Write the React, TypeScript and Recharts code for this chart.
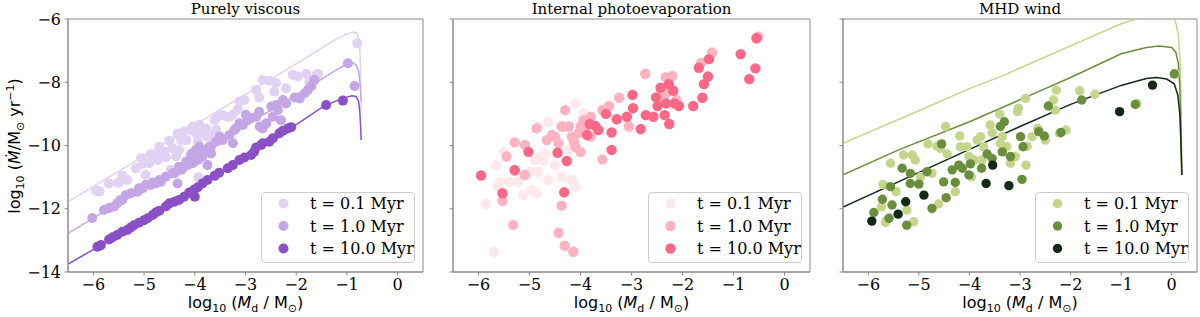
import { ComposedChart, Scatter, Line, XAxis, YAxis, ReferenceArea, Legend } from 'recharts';

type Pt = [number, number];

const X_TICKS = [-6, -5, -4, -3, -2, -1, 0];
const Y_TICKS = [-14, -12, -10, -8, -6];
const AGES = ['t = 0.1 Myr', 't = 1.0 Myr', 't = 10.0 Myr'];

// ---- Purely viscous ----
const viscTrack01: Pt[] = [[-6.5, -11.78], [-5, -10.33], [-4, -9.35], [-3, -8.38], [-2, -7.42], [-1.5, -6.92], [-1.2, -6.63], [-1.0, -6.47], [-0.88, -6.41], [-0.8, -6.45], [-0.76, -6.65], [-0.74, -7.1], [-0.73, -7.8], [-0.72, -8.9]];
const viscTrack1: Pt[] = [[-6.5, -12.78], [-5, -11.33], [-4, -10.35], [-3, -9.37], [-2, -8.4], [-1.5, -7.9], [-1.2, -7.6], [-1.0, -7.43], [-0.9, -7.38], [-0.82, -7.45], [-0.77, -7.65], [-0.745, -8.0], [-0.72, -8.6]];
const viscTrack10: Pt[] = [[-6.5, -13.75], [-5, -12.37], [-4, -11.4], [-3, -10.38], [-2.1, -9.45], [-1.5, -8.8], [-1.2, -8.58], [-1.0, -8.47], [-0.9, -8.43], [-0.82, -8.45], [-0.77, -8.6], [-0.745, -8.95], [-0.73, -9.4], [-0.72, -9.83]];

const viscPts01: Pt[] = [[-5.95, -11.42], [-5.88, -11.45], [-5.69, -11.2], [-5.5, -11.18], [-5.43, -10.95], [-5.33, -11.09], [-5.16, -10.72], [-5.06, -10.4], [-5.03, -10.58], [-4.97, -10.93], [-4.9, -10.56], [-4.87, -10.28], [-4.77, -10.32], [-4.73, -10.46], [-4.7, -10.05], [-4.6, -10.2], [-4.57, -10.37], [-4.5, -9.85], [-4.47, -10.77], [-4.44, -10.09], [-4.37, -10.35], [-4.34, -9.62], [-4.31, -10.14], [-4.27, -9.83], [-4.21, -9.56], [-4.17, -9.83], [-4.08, -9.51], [-4.08, -10.25], [-4.04, -9.4], [-3.98, -9.61], [-3.94, -9.88], [-3.93, -11.0], [-3.91, -9.35], [-3.85, -9.61], [-3.78, -9.46], [-3.75, -9.72], [-3.71, -9.7], [-3.65, -9.88], [-3.61, -9.2], [-3.58, -9.51], [-3.55, -9.09], [-3.45, -9.04], [-3.35, -9.09], [-3.32, -9.09], [-3.25, -9.03], [-3.15, -8.85], [-3.12, -8.61], [-3.02, -8.56], [-2.79, -8.24], [-2.73, -8.48], [-2.66, -7.93], [-2.53, -7.95], [-2.43, -8.3], [-2.4, -8.03], [-2.2, -8.19], [-2.07, -7.77], [-1.97, -7.82], [-1.8, -7.74], [-1.74, -7.98], [-1.6, -7.77], [-1.57, -7.74], [-0.8, -6.77]];
const viscPts1: Pt[] = [[-6.02, -12.29], [-5.79, -12.04], [-5.69, -11.98], [-5.59, -11.93], [-5.53, -11.83], [-5.46, -11.72], [-5.43, -11.72], [-5.36, -11.57], [-5.26, -11.51], [-5.13, -11.46], [-5.1, -11.35], [-5.03, -11.36], [-4.97, -11.25], [-4.87, -11.25], [-4.83, -11.17], [-4.77, -11.2], [-4.7, -11.09], [-4.67, -11.15], [-4.57, -10.99], [-4.44, -10.88], [-4.4, -10.88], [-4.34, -11.2], [-4.31, -10.67], [-4.27, -10.77], [-4.24, -10.72], [-4.17, -10.51], [-4.14, -10.62], [-4.08, -10.35], [-4.04, -10.56], [-4.04, -10.25], [-3.98, -10.14], [-3.94, -10.46], [-3.91, -10.04], [-3.85, -10.35], [-3.85, -10.14], [-3.75, -10.62], [-3.71, -10.04], [-3.68, -10.25], [-3.68, -10.04], [-3.58, -9.88], [-3.51, -9.72], [-3.45, -9.83], [-3.32, -9.67], [-3.25, -9.93], [-3.22, -9.51], [-3.19, -9.46], [-3.12, -9.3], [-3.05, -9.35], [-2.99, -9.03], [-2.96, -9.2], [-2.89, -9.14], [-2.79, -9.09], [-2.73, -8.93], [-2.72, -9.4], [-2.66, -9.46], [-2.59, -9.3], [-2.49, -8.77], [-2.46, -9.09], [-2.4, -8.72], [-2.36, -8.88], [-2.3, -9.2], [-2.26, -8.56], [-2.2, -8.67], [-2.03, -8.48], [-1.93, -8.51], [-1.83, -8.35], [-1.77, -8.24], [-1.7, -8.12], [-1.64, -7.93], [-0.98, -7.4], [-0.85, -8.12]];
const viscPts10: Pt[] = [[-5.92, -13.2], [-5.85, -13.15], [-5.69, -12.97], [-5.62, -12.9], [-5.53, -12.83], [-5.43, -12.73], [-5.33, -12.67], [-5.26, -12.59], [-5.2, -12.52], [-5.1, -12.44], [-5.0, -12.36], [-4.93, -12.3], [-4.83, -12.2], [-4.77, -12.12], [-4.7, -12.06], [-4.57, -11.93], [-4.5, -11.83], [-4.4, -11.78], [-4.31, -11.72], [-4.21, -11.62], [-4.11, -11.49], [-4.01, -11.39], [-4.0, -11.62], [-3.94, -11.32], [-3.85, -11.2], [-3.75, -11.09], [-3.61, -10.96], [-3.52, -10.86], [-3.35, -10.72], [-3.25, -10.62], [-3.12, -10.46], [-3.02, -10.38], [-2.89, -10.3], [-2.83, -10.2], [-2.79, -10.06], [-2.69, -9.98], [-2.66, -9.93], [-2.53, -9.88], [-2.46, -9.77], [-2.33, -9.61], [-2.26, -9.53], [-2.17, -9.46], [-2.1, -9.42], [-1.41, -8.72], [-1.08, -8.58]];

// ---- Internal photoevaporation ----
const pePts01: Pt[] = [[-5.86, -11.85], [-5.7, -13.36], [-5.65, -10.62], [-5.62, -11.3], [-5.58, -11.15], [-5.5, -10.2], [-5.39, -11.15], [-5.22, -11.15], [-5.12, -11.57], [-4.99, -10.83], [-4.96, -11.41], [-4.89, -10.46], [-4.86, -11.51], [-4.83, -10.83], [-4.83, -9.4], [-4.79, -10.35], [-4.73, -10.46], [-4.69, -10.27], [-4.63, -11.09], [-4.63, -9.25], [-4.5, -10.62], [-4.37, -10.99], [-4.23, -10.14], [-4.17, -11.09], [-4.1, -11.3], [-4.1, -8.67], [-3.94, -8.98], [-2.72, -7.7], [-0.5, -6.54]];
const pePts1: Pt[] = [[-5.53, -11.75], [-5.45, -10.35], [-5.32, -12.51], [-5.29, -10.8], [-5.29, -9.9], [-5.09, -10.93], [-5.09, -9.98], [-4.86, -9.46], [-4.66, -9.83], [-4.56, -9.67], [-4.5, -9.72], [-4.43, -9.93], [-4.43, -12.76], [-4.37, -9.4], [-4.37, -11.9], [-4.33, -9.4], [-4.31, -13.17], [-4.3, -8.88], [-4.23, -9.4], [-4.17, -9.72], [-4.14, -13.36], [-4.13, -9.88], [-4.1, -10.04], [-4.04, -9.61], [-4.0, -9.4], [-4.0, -10.2], [-3.94, -9.19], [-3.9, -9.56], [-3.8, -9.09], [-3.8, -9.72], [-3.57, -8.88], [-3.57, -10.44], [-3.44, -8.75], [-3.24, -8.49], [-3.05, -9.4], [-2.73, -7.74], [-2.42, -8.27], [-2.4, -8.46], [-2.33, -7.84], [-2.32, -8.35], [-2.2, -7.8], [-2.12, -8.56], [-1.63, -7.38], [-1.42, -7.06], [-0.52, -6.56]];
const pePts10: Pt[] = [[-5.95, -10.95], [-5.53, -11.51], [-5.29, -10.77], [-5.02, -10.2], [-4.45, -10.23], [-4.32, -11.48], [-4.27, -10.49], [-3.87, -9.67], [-3.82, -9.32], [-3.71, -9.38], [-3.65, -9.51], [-3.5, -9.0], [-3.39, -9.59], [-3.39, -10.14], [-3.29, -9.17], [-3.09, -9.09], [-2.98, -8.4], [-2.97, -8.82], [-2.82, -9.48], [-2.72, -9.04], [-2.57, -9.09], [-2.52, -8.48], [-2.49, -8.75], [-2.43, -8.17], [-2.35, -9.04], [-2.32, -8.67], [-2.27, -8.06], [-2.26, -9.32], [-2.18, -8.27], [-2.16, -8.67], [-2.07, -8.75], [-1.79, -8.75], [-1.68, -7.54], [-1.61, -8.49], [-1.58, -8.06], [-1.5, -7.82], [-1.48, -7.27], [-0.86, -7.11], [-0.69, -7.9], [-0.57, -7.56], [-0.55, -6.61]];

// ---- MHD wind ----
const mhdTrack01: Pt[] = [[-6.5, -9.93], [-5, -8.9], [-4, -8.2], [-3.35, -7.8], [-2, -6.85], [-1, -6.15], [-0.5, -5.9], [-0.2, -5.82], [0, -5.9], [0.08, -6.1], [0.13, -6.5], [0.16, -7.2], [0.18, -8.3], [0.19, -9.5], [0.2, -10.93]];
const mhdTrack1: Pt[] = [[-6.5, -10.93], [-5.4, -10.14], [-4, -9.25], [-3.35, -8.8], [-2, -7.85], [-1, -7.1], [-0.5, -6.9], [-0.25, -6.85], [0, -6.9], [0.08, -7.05], [0.13, -7.4], [0.16, -8.1], [0.18, -9.3], [0.2, -10.93]];
const mhdTrack10: Pt[] = [[-6.5, -11.95], [-4.02, -10.14], [-3, -9.4], [-2, -8.7], [-1, -8.1], [-0.5, -7.88], [-0.3, -7.85], [-0.1, -7.9], [0.05, -8.05], [0.12, -8.4], [0.16, -9.0], [0.18, -9.8], [0.2, -10.93]];

const mhdPts01: Pt[] = [[-5.74, -11.94], [-5.71, -11.23], [-5.66, -12.43], [-5.63, -12.36], [-5.56, -10.56], [-5.45, -11.46], [-5.3, -10.3], [-5.24, -12.04], [-5.13, -10.3], [-5.1, -12.41], [-5.07, -10.46], [-4.97, -10.99], [-4.82, -9.95], [-4.74, -10.88], [-4.64, -10.02], [-4.61, -11.85], [-4.57, -10.09], [-4.47, -9.4], [-4.44, -10.27], [-4.28, -11.46], [-4.19, -9.7], [-4.18, -10.04], [-4.05, -10.04], [-4.01, -10.35], [-3.96, -10.99], [-3.9, -10.46], [-3.85, -9.83], [-3.78, -9.72], [-3.75, -10.46], [-3.72, -10.04], [-3.59, -9.35], [-3.55, -9.6], [-3.4, -9.01], [-3.39, -9.93], [-3.35, -9.72], [-3.26, -10.04], [-3.19, -10.56], [-3.09, -10.35], [-3.05, -8.93], [-3.03, -8.82], [-2.89, -8.51], [-2.86, -10.02], [-2.88, -10.62], [-2.76, -9.72], [-2.65, -9.46], [-2.5, -9.83], [-2.34, -8.56], [-2.28, -8.25], [-2.3, -8.88], [-2.22, -9.61], [-2.09, -9.51], [-1.82, -8.27], [-1.52, -8.38], [-0.69, -8.67], [0.07, -7.72]];
const mhdPts1: Pt[] = [[-5.89, -12.12], [-5.72, -11.7], [-5.59, -12.3], [-5.56, -11.3], [-5.53, -11.88], [-5.33, -10.72], [-5.24, -12.52], [-5.17, -10.88], [-5.17, -11.2], [-5.0, -11.22], [-4.84, -10.83], [-4.74, -11.99], [-4.55, -9.95], [-4.51, -11.15], [-4.46, -11.65], [-4.34, -10.77], [-4.28, -11.17], [-4.21, -10.62], [-4.14, -10.72], [-4.01, -10.93], [-3.98, -10.58], [-3.76, -10.72], [-3.65, -10.27], [-3.55, -10.41], [-3.39, -9.4], [-3.35, -10.2], [-3.31, -9.25], [-3.19, -10.35], [-2.99, -9.72], [-2.96, -11.07], [-2.94, -10.04], [-2.63, -9.56], [-2.52, -9.7], [-2.44, -8.75], [-2.19, -9.59], [-1.78, -8.56], [-0.72, -8.7], [0.05, -7.74]];
const mhdPts10: Pt[] = [[-5.93, -12.39], [-5.41, -12.17], [-5.26, -11.78], [-4.9, -11.57], [-3.67, -11.2], [-3.54, -10.62], [-3.22, -11.27], [-1.03, -8.93], [-0.38, -8.09]];

const rows = (pts: Pt[]) => pts.map(([x, y]) => ({ x, y }));
const fmt = (v: number) => (v < 0 ? `\u2212${Math.abs(v)}` : `${v}`);

const SPINE = '#8a8a8a';
const SERIF = 'DejaVu Serif';
const SANS = 'DejaVu Sans';

const panels = [
  {
    title: 'Purely viscous',
    colors: ['#e1d1f3', '#c4a6e6', '#8b4fc6'],
    points: [viscPts01, viscPts1, viscPts10],
    tracks: [viscTrack01, viscTrack1, viscTrack10],
    left: 0, width: 426, yw: 68, r: 5, yLabels: true,
  },
  {
    title: 'Internal photoevaporation',
    colors: ['#fde8ec', '#ffb3c1', '#fa6886'],
    points: [pePts01, pePts1, pePts10],
    tracks: [] as Pt[][],
    left: 440, width: 373, yw: 13, r: 5.2, yLabels: false,
  },
  {
    title: 'MHD wind',
    colors: ['#c5d68c', '#6a8f3c', '#132a17'],
    points: [mhdPts01, mhdPts1, mhdPts10],
    tracks: [mhdTrack01, mhdTrack1, mhdTrack10],
    left: 830, width: 370, yw: 13, r: 4.7, yLabels: false,
  },
];

const XTick = (p: any) => (
  <text x={p.x} y={p.y} dy="0.71em" textAnchor="middle" fontFamily={SERIF} fontSize={16} fill="#000">
    {fmt(p.payload.value)}
  </text>
);
const YTick = (p: any) => (
  <text x={p.x} y={p.y} dy="0.355em" textAnchor="end" fontFamily={SERIF} fontSize={16} fill="#000">
    {fmt(p.payload.value)}
  </text>
);
const NoTick = () => <g />;

const XLabel = (p: any) => {
  const vb = p.viewBox || { x: 0, y: 272, width: 355 };
  return (
    <text x={vb.x + vb.width / 2} y={308} textAnchor="middle" fontFamily={SANS} fontSize={16} fill="#000">
      <tspan>log</tspan>
      <tspan fontSize={11} dy={4}>10</tspan>
      <tspan dy={-4}> (</tspan>
      <tspan fontStyle="italic">M</tspan>
      <tspan fontSize={11} dy={4}>d</tspan>
      <tspan dy={-4}> / M</tspan>
      <tspan fontSize={11} dy={4}>⊙</tspan>
      <tspan dy={-4}>)</tspan>
    </text>
  );
};

const YLabel = () => (
  <text x={20} y={146} transform="rotate(-90 20 146)" textAnchor="middle" fontFamily={SANS} fontSize={16} fill="#000">
    <tspan>log</tspan>
    <tspan fontSize={11} dy={4}>10</tspan>
    <tspan dy={-4}> (</tspan>
    <tspan fontStyle="italic">Ṁ</tspan>
    <tspan>/M</tspan>
    <tspan fontSize={11} dy={4}>⊙</tspan>
    <tspan dy={-4}> yr</tspan>
    <tspan fontSize={11} dy={-6}>−1</tspan>
    <tspan dy={6}>)</tspan>
  </text>
);

const TitleLabel = (p: any) => {
  const vb = p.viewBox || { x: 0, y: 19, width: 355 };
  return (
    <text x={vb.x + vb.width / 2} y={vb.y - 5.5} textAnchor="middle" fontFamily={SERIF} fontSize={15} fill="#000">
      {p.text}
    </text>
  );
};

const LegendBox = ({ colors, r }: { colors: string[]; r: number }) => (
  <svg width={154} height={72} style={{ display: 'block' }}>
    <rect x={0.5} y={0.5} width={153} height={70} rx={3.5} fill="rgba(255,255,255,0.8)" stroke="#cccccc" />
    {AGES.map((a, i) => (
      <g key={a}>
        <circle cx={22.5} cy={11.5 + i * 22.5} r={r} fill={colors[i]} />
        <text x={49} y={11.5 + i * 22.5} dy="0.36em" fontFamily={SERIF} fontSize={16} fill="#000">{a}</text>
      </g>
    ))}
  </svg>
);

const dot = (r: number) => (p: any) => <circle cx={p.cx} cy={p.cy} r={r} fill={p.fill} />;

const Panel = ({ cfg }: { cfg: (typeof panels)[number] }) => {
  const plotRight = cfg.width - 3;
  return (
    <div style={{ position: 'absolute', left: cfg.left, top: 0 }}>
      <ComposedChart width={cfg.width} height={317} margin={{ top: 19, right: 3, bottom: 0, left: 0 }}>
        <XAxis
          type="number"
          dataKey="x"
          domain={[-6.5, 0.5]}
          ticks={X_TICKS}
          interval={0}
          allowDataOverflow
          height={45}
          tickSize={3.5}
          tickMargin={3.5}
          tick={XTick}
          tickLine={{ stroke: SPINE }}
          axisLine={{ stroke: SPINE }}
          label={<XLabel />}
        />
        <YAxis
          type="number"
          dataKey="y"
          domain={[-14, -6]}
          ticks={Y_TICKS}
          interval={0}
          allowDataOverflow
          width={cfg.yw}
          tickSize={3.5}
          tickMargin={3.5}
          tick={cfg.yLabels ? YTick : NoTick}
          tickLine={{ stroke: SPINE }}
          axisLine={{ stroke: SPINE }}
          label={cfg.yLabels ? <YLabel /> : undefined}
        />
        {cfg.points.map((pts, i) => (
          <Scatter
            key={`s${i}`}
            data={rows(pts)}
            dataKey="y"
            fill={cfg.colors[i]}
            shape={dot(cfg.r)}
            isAnimationActive={false}
          />
        ))}
        {cfg.tracks.map((tr, i) => (
          <Line
            key={`l${i}`}
            data={rows(tr)}
            dataKey="y"
            type="linear"
            stroke={cfg.colors[i]}
            strokeWidth={1.5}
            dot={false}
            activeDot={false}
            legendType="none"
            isAnimationActive={false}
          />
        ))}
        <ReferenceArea
          x1={-6.5}
          x2={0.5}
          y1={-14}
          y2={-6}
          ifOverflow="visible"
          fill="none"
          fillOpacity={0}
          stroke={SPINE}
          strokeWidth={1}
          label={<TitleLabel text={cfg.title} />}
        />
        <Legend
          layout="vertical"
          align="center"
          verticalAlign="middle"
          wrapperStyle={{ left: plotRight - 8 - 154, top: 192, width: 154, height: 72 }}
          content={() => <LegendBox colors={cfg.colors} r={cfg.r} />}
        />
      </ComposedChart>
    </div>
  );
}

export default function App() {
  return (
    <div style={{ position: 'absolute', left: 0, top: 0, width: 1200, height: 317, background: '#fff' }}>
      {panels.map((p) => (
        <Panel key={p.title} cfg={p} />
      ))}
    </div>
  );
}
